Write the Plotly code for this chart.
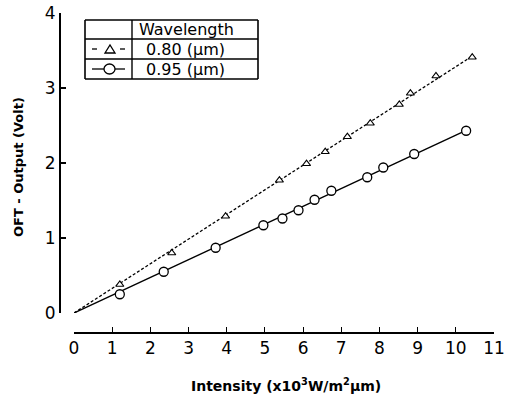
import numpy as np
import plotly.graph_objects as go

# ---- data ----
x_080 = [1.20, 2.56, 3.97, 5.38, 6.09, 6.58, 7.16, 7.76, 8.52, 8.81, 9.48, 10.43]
y_080 = [0.38, 0.80, 1.29, 1.77, 1.99, 2.15, 2.35, 2.53, 2.78, 2.93, 3.16, 3.41]
x_095 = [1.20, 2.35, 3.71, 4.96, 5.46, 5.88, 6.30, 6.74, 7.68, 8.10, 8.91, 10.27]
y_095 = [0.25, 0.55, 0.87, 1.17, 1.26, 1.37, 1.51, 1.63, 1.81, 1.94, 2.12, 2.43]
x_ticks = list(range(0, 12))
y_ticks = [0, 1, 2, 3, 4]
legend_header = "Wavelength"
legend_labels = ["0.80 (μm)", "0.95 (μm)"]

# ---- layout geometry (pixels) ----
W, H = 508, 397
ML, MR, MT, MB = 60, 14, 13, 64
PW, PH = W - ML - MR, H - MT - MB


def px(x):
    return (x - ML) / PW


def py(y):
    return (H - MB - y) / PH


def fit_line(xs, ys):
    xs, ys = np.asarray(xs), np.asarray(ys)
    k = float((xs * ys).sum() / (xs * xs).sum())
    xl = [0.0, float(xs.max())]
    return xl, [k * v for v in xl]


fig = go.Figure()
lx, ly = fit_line(x_080, y_080)
fig.add_trace(go.Scatter(x=lx, y=ly, mode="lines",
                         line=dict(color="black", width=1.3, dash="3px,2px"),
                         showlegend=False, hoverinfo="skip"))
lx, ly = fit_line(x_095, y_095)
fig.add_trace(go.Scatter(x=lx, y=ly, mode="lines",
                         line=dict(color="black", width=1.4),
                         showlegend=False, hoverinfo="skip"))
fig.add_trace(go.Scatter(x=x_080, y=y_080, mode="markers",
                         marker=dict(symbol="triangle-up", size=7, color="white",
                                     line=dict(color="black", width=1.2)),
                         showlegend=False))
fig.add_trace(go.Scatter(x=x_095, y=y_095, mode="markers",
                         marker=dict(symbol="circle", size=9, color="white",
                                     line=dict(color="black", width=1.3)),
                         showlegend=False))

font_ticks = dict(family="DejaVu Sans", size=17, color="black")

fig.update_layout(
    template="none",
    width=W, height=H,
    margin=dict(l=ML, r=MR, t=MT, b=MB, pad=0),
    paper_bgcolor="white", plot_bgcolor="white",
    xaxis=dict(domain=[px(74), 1], range=[0, 11], anchor="free", position=0,
               automargin=False,
               tickvals=x_ticks, ticktext=[str(v) for v in x_ticks],
               ticks="inside", ticklen=5, tickwidth=1.2, tickcolor="black",
               showline=True, linewidth=2, linecolor="black",
               showgrid=False, zeroline=False, tickfont=font_ticks),
    yaxis=dict(domain=[py(313), 1], range=[0, 4], anchor="free", position=0,
               automargin=False,
               tickvals=y_ticks, ticktext=[str(v) for v in y_ticks],
               ticks="inside", ticklen=5, tickwidth=1.5, tickcolor="black",
               showline=True, linewidth=2, linecolor="black",
               showgrid=False, zeroline=False, tickfont=font_ticks),
)


def ann(text, x, y, size, angle=0):
    return dict(text=text, x=px(x), y=py(y), xref="paper", yref="paper",
                xanchor="center", yanchor="middle", showarrow=False, textangle=angle,
                font=dict(family="DejaVu Sans", size=size, color="black"))


annotations = [
    ann("<b>OFT - Output (Volt)</b>", 18, 167, 13, -90),
    ann("<b>Intensity (x10<sup>3</sup>W/m<sup>2</sup>μm)</b>", 286, 385, 14),
    ann(legend_header, 186, 29.5, 16),
    ann(legend_labels[0], 185, 49, 16),
    ann(legend_labels[1], 185, 69, 16),
]
fig.update_layout(annotations=annotations)

shapes = []


def seg(x0, y0, x1, y1, w=1.5):
    shapes.append(dict(type="line", xref="paper", yref="paper",
                       x0=px(x0), y0=py(y0), x1=px(x1), y1=py(y1),
                       line=dict(color="black", width=w)))


# legend table
seg(85, 20, 258, 20, 1.6)
seg(85, 79, 258, 79, 1.6)
seg(85, 20, 85, 79, 1.6)
seg(258, 20, 258, 79, 1.6)
seg(85, 39, 258, 39, 1.4)
seg(85, 59, 258, 59, 1.4)
seg(132, 20, 132, 79, 1.4)
# legend symbol: dashed with triangle
seg(92, 49, 97, 49, 1.3)
seg(120, 49, 125, 49, 1.3)
shapes.append(dict(type="path", xref="paper", yref="paper",
                   path="M {} {} L {} {} L {} {} Z".format(px(105), py(53), px(115), py(53), px(110), py(45)),
                   line=dict(color="black", width=1.3), fillcolor="white"))
# legend symbol: solid with circle
seg(92, 69, 104, 69, 1.3)
seg(115, 69, 125, 69, 1.3)
shapes.append(dict(type="circle", xref="paper", yref="paper",
                   x0=px(104), y0=py(74), x1=px(115), y1=py(64),
                   line=dict(color="black", width=1.3), fillcolor="white"))
fig.update_layout(shapes=shapes)

fig.write_html("out.html")
